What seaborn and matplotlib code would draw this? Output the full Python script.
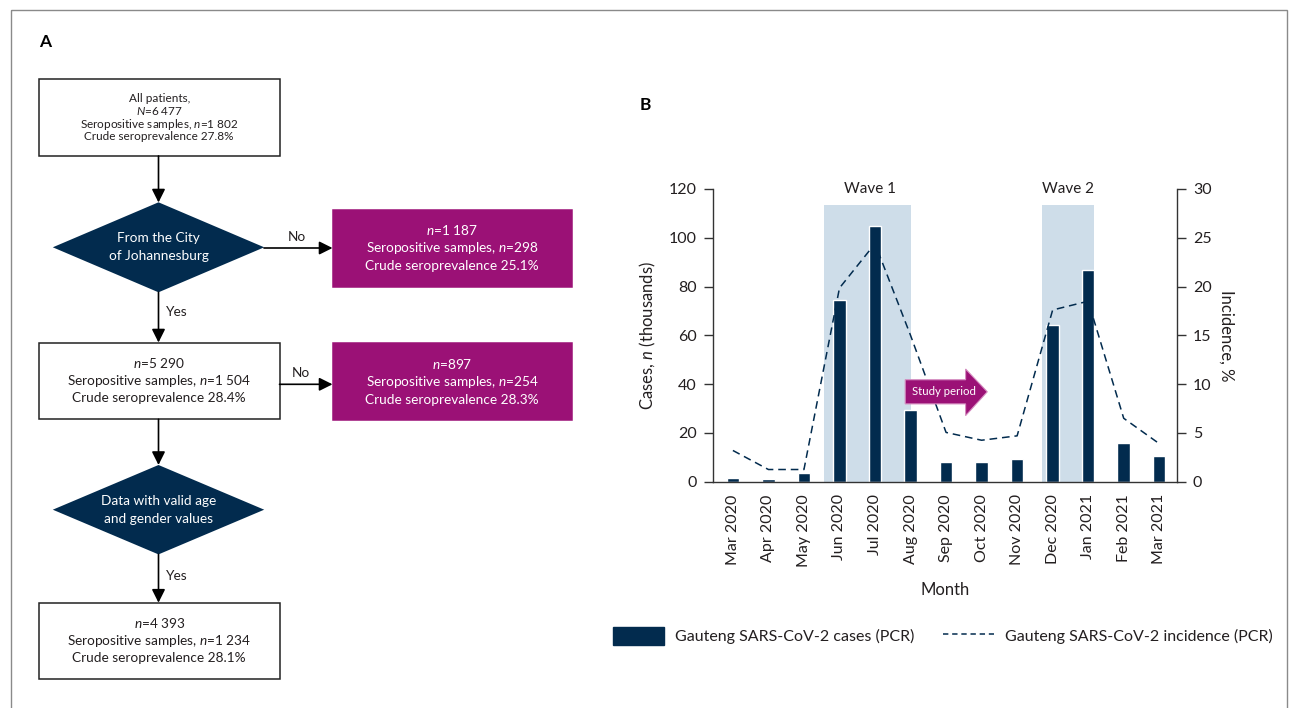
import numpy as np
import matplotlib
matplotlib.use("Agg")
import matplotlib.pyplot as plt
import seaborn as sns
from matplotlib.patches import Rectangle, Polygon, Patch
from matplotlib.lines import Line2D

# ---------------- data ----------------
months = ["Mar 2020", "Apr 2020", "May 2020", "Jun 2020", "Jul 2020", "Aug 2020",
          "Sep 2020", "Oct 2020", "Nov 2020", "Dec 2020", "Jan 2021", "Feb 2021", "Mar 2021"]
cases_thousands = [1.5, 1.1, 3.5, 74.5, 104.8, 29.4, 8.1, 8.1, 9.3, 64.2, 86.8, 15.9, 10.5]
incidence_pct = [3.2, 1.25, 1.25, 19.85, 24.4, 15.0, 5.05, 4.25, 4.7, 17.6, 18.5, 6.5, 3.9]
wave_labels = ["Wave 1", "Wave 2"]
wave_spans = [(2.56, 5.0), (8.70, 10.17)]
wave_top = 113.6
left_yticks = [0, 20, 40, 60, 80, 100, 120]
right_yticks = [0, 5, 10, 15, 20, 25, 30]

NAVY = "#022B4E"
MAGENTA = "#9B1176"
LIGHTBLUE = "#CEDDE9"
TXT = "#231F20"
FONT = "Lato"

sns.set_theme(style="white")
plt.rcParams["font.family"] = [FONT, "DejaVu Sans"]
plt.rcParams["mathtext.fontset"] = "custom"
plt.rcParams["mathtext.rm"] = FONT
plt.rcParams["mathtext.it"] = FONT + ":italic"
plt.rcParams["text.color"] = TXT

W, H = 1297, 708
fig = plt.figure(figsize=(W / 100, H / 100), dpi=100)

# ---------------- overlay (pixel coords) for panel A ----------------
ov = fig.add_axes([0, 0, 1, 1], zorder=0)
ov.set_xlim(0, W)
ov.set_ylim(H, 0)
ov.axis("off")

# outer frame
ov.add_patch(Rectangle((10.5, 10), 1276.5, 720, fill=False, ec="#8a8a8a", lw=1.0))

ov.text(45, 42, "A", fontsize=12.5, fontweight="bold", ha="center", va="center", color="black")
ov.text(645, 105, "B", fontsize=12.5, fontweight="bold", ha="center", va="center", color="black")

def box(x0, y0, x1, y1, lines, fc="white", tc=TXT, fs=9.8, dy=17.5, ec="#222222"):
    ov.add_patch(Rectangle((x0, y0), x1 - x0, y1 - y0, fc=fc, ec=ec if fc == "white" else fc, lw=1.1))
    cy = (y0 + y1) / 2
    n = len(lines)
    for i, t in enumerate(lines):
        ov.text((x0 + x1) / 2, cy + (i - (n - 1) / 2) * dy, t, ha="center", va="center",
                fontsize=fs, color=tc)

def diamond(cx, cy, hw, hh, lines, fs=9.8, dy=18.3):
    ov.add_patch(Polygon([(cx - hw, cy), (cx, cy - hh), (cx + hw, cy), (cx, cy + hh)],
                         closed=True, fc=NAVY, ec=NAVY, lw=0))
    n = len(lines)
    for i, t in enumerate(lines):
        ov.text(cx, cy + (i - (n - 1) / 2) * dy, t, ha="center", va="center", fontsize=fs, color="white")

def arrow(x0, y0, x1, y1):
    ov.annotate("", xy=(x1, y1), xytext=(x0, y0),
                arrowprops=dict(arrowstyle="-|>", mutation_scale=20, lw=1.2, color="black",
                                shrinkA=0, shrinkB=0))

cx = 158.5
box(39, 79, 279.5, 156, ["All patients,", "$N$=6 477", "Seropositive samples, $n$=1 802",
                          "Crude seroprevalence 27.8%"], fs=8.5, dy=13)
arrow(cx, 156, cx, 202.5)
diamond(cx, 247.3, 105.7, 45, ["From the City", "of Johannesburg"])
arrow(264, 248, 332.5, 248)
ov.text(297, 237, "No", ha="center", va="center", fontsize=9.8)
box(332.5, 210, 571.5, 286.7, ["$n$=1 187", "Seropositive samples, $n$=298",
                               "Crude seroprevalence 25.1%"], fc=MAGENTA, tc="white", dy=18)
arrow(cx, 292.3, cx, 342.5)
ov.text(166, 312.5, "Yes", ha="left", va="center", fontsize=9.8)
box(39, 342.5, 279.5, 419.3, ["$n$=5 290", "Seropositive samples, $n$=1 504",
                              "Crude seroprevalence 28.4%"], dy=17.5)
arrow(279.5, 384.3, 332.5, 384.3)
ov.text(301, 373, "No", ha="center", va="center", fontsize=9.8)
box(332.5, 343.3, 571.5, 420, ["$n$=897", "Seropositive samples, $n$=254",
                               "Crude seroprevalence 28.3%"], fc=MAGENTA, tc="white", dy=18)
arrow(cx, 419.3, cx, 465)
diamond(cx, 509.7, 105.7, 44.7, ["Data with valid age", "and gender values"])
arrow(cx, 554.3, cx, 602.7)
ov.text(166, 576, "Yes", ha="left", va="center", fontsize=9.8)
box(39, 602.7, 279.5, 679.3, ["$n$=4 393", "Seropositive samples, $n$=1 234",
                              "Crude seroprevalence 28.1%"], dy=17.5)

# ---------------- panel B ----------------
ax = fig.add_axes([713 / W, (H - 481.7) / H, (1177 - 713) / W, (481.7 - 189) / H], zorder=2)
ax.patch.set_alpha(0)

for (a, b) in wave_spans:
    ax.fill_between([a, b], 0, wave_top, color=LIGHTBLUE, lw=0, zorder=0.5)

sns.barplot(x=months, y=cases_thousands, color=NAVY, saturation=1, width=0.35, ax=ax, zorder=2)
ax.set_xlim(-0.56, 12.5)
ax.set_ylim(0, 120)
ax.set_yticks(left_yticks)

for lab, (a, b) in zip(wave_labels, wave_spans):
    ax.text((a + b) / 2 + (0.08 if lab == "Wave 1" else 0.0), 120, lab, ha="center", va="center",
            fontsize=11, color=TXT)

ax2 = ax.twinx()
sns.lineplot(x=np.arange(len(months)), y=incidence_pct, ax=ax2, color=NAVY, lw=1.1, zorder=3)
ax2.lines[0].set_dashes([5, 3.2])
ax2.set_ylim(0, 30)
ax2.set_yticks(right_yticks)
ax2.set_xlim(-0.56, 12.5)

# study period arrow (drawn above the line)
ay = 36.85
arrow_pts = [(4.85, ay + 4.95), (6.55, ay + 4.95), (6.55, ay + 9.35), (7.16, ay),
             (6.55, ay - 9.75), (6.55, ay - 4.95), (4.85, ay - 4.95)]
ax2.add_patch(Polygon(arrow_pts, closed=True, fc=MAGENTA, ec="#D58CC0", lw=0.8,
                      transform=ax.transData, zorder=5))
ax2.text(5.93, ay, "Study period", transform=ax.transData, ha="center", va="center",
         fontsize=8.2, color="white", zorder=6)

SPC = "#333333"
for a in (ax, ax2):
    a.spines["top"].set_visible(False)
    for s in ("left", "right", "bottom"):
        a.spines[s].set_color(SPC)
        a.spines[s].set_linewidth(1.0)
ax.spines["right"].set_visible(False)
ax2.spines["left"].set_visible(False)
ax2.spines["bottom"].set_visible(False)

ax.tick_params(axis="y", direction="out", length=6.5, width=1.0, color=SPC, pad=5,
               labelsize=11.5, labelcolor=TXT, left=True)
ax.tick_params(axis="x", length=0, pad=9, labelsize=11.5, labelcolor=TXT, rotation=90)
ax2.tick_params(axis="y", direction="out", length=6.5, width=1.0, color=SPC, pad=5,
                labelsize=11.5, labelcolor=TXT, right=True)

ax.set_xlabel("Month", fontsize=12, color=TXT, labelpad=11)
ax.set_ylabel("Cases, $n$ (thousands)", fontsize=12, color=TXT, labelpad=8)
ax2.set_ylabel("Incidence, %", fontsize=12, color=TXT, rotation=270, labelpad=16)

handles = [Patch(facecolor=NAVY, edgecolor=NAVY),
           Line2D([], [], color=NAVY, lw=1.1, dashes=[3.5, 2.5])]
fig.legend(handles, ["Gauteng SARS-CoV-2 cases (PCR)", "Gauteng SARS-CoV-2 incidence (PCR)"],
           loc="center", bbox_to_anchor=(943 / W, 1 - 636 / H), ncol=2, frameon=False,
           fontsize=11.5, handlelength=3.2, handleheight=1.4, handletextpad=0.7,
           columnspacing=1.8)

fig.savefig("out.png", dpi=100)
